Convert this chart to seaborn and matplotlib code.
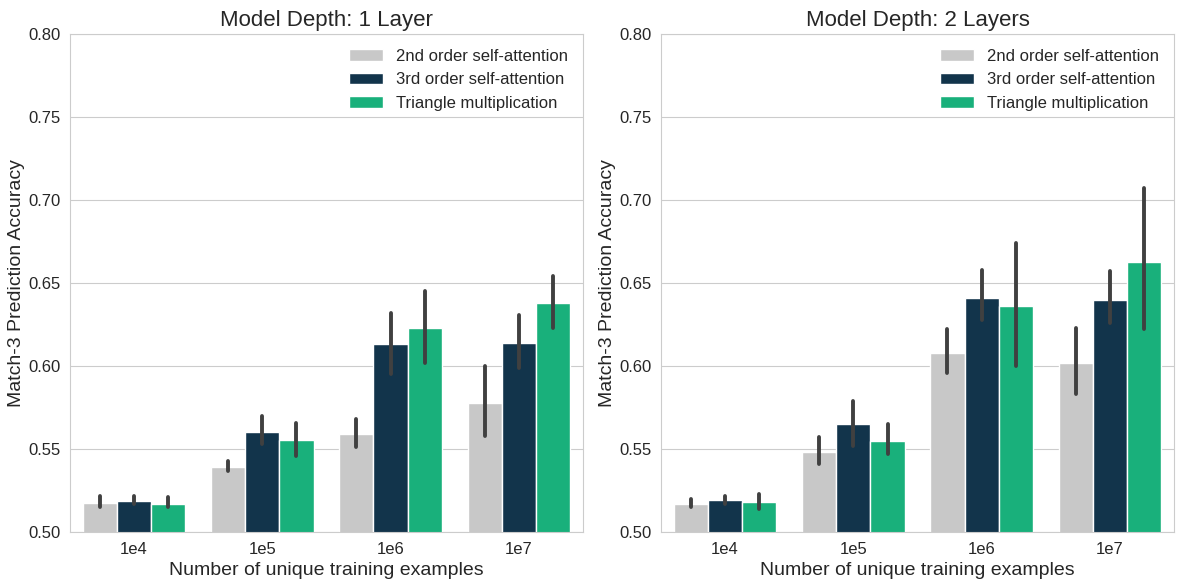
import matplotlib
matplotlib.use('Agg')
import matplotlib.pyplot as plt
import seaborn as sns
import pandas as pd

sizes = ['1e4', '1e5', '1e6', '1e7']
models = ['2nd order self-attention', '3rd order self-attention', 'Triangle multiplication']
colors = ['#c8c8c8', '#12344b', '#19b07b']

# mean accuracy per model (rows) and dataset size (cols)
acc_1layer = [
    [0.5175, 0.539, 0.559, 0.578],
    [0.5187, 0.560, 0.613, 0.614],
    [0.5169, 0.5554, 0.623, 0.638],
]
lo_1layer = [
    [0.515, 0.537, 0.551, 0.558],
    [0.517, 0.553, 0.595, 0.599],
    [0.515, 0.546, 0.602, 0.623],
]
hi_1layer = [
    [0.522, 0.543, 0.568, 0.600],
    [0.522, 0.570, 0.632, 0.631],
    [0.521, 0.5656, 0.645, 0.654],
]

acc_2layer = [
    [0.517, 0.548, 0.608, 0.602],
    [0.519, 0.565, 0.641, 0.640],
    [0.518, 0.555, 0.636, 0.6625],
]
lo_2layer = [
    [0.515, 0.541, 0.596, 0.583],
    [0.517, 0.552, 0.628, 0.626],
    [0.514, 0.547, 0.600, 0.622],
]
hi_2layer = [
    [0.520, 0.557, 0.622, 0.623],
    [0.522, 0.579, 0.658, 0.657],
    [0.523, 0.565, 0.674, 0.707],
]

titles = ['Model Depth: 1 Layer', 'Model Depth: 2 Layers']

sns.set_style('whitegrid')
plt.rcParams['font.family'] = ['Liberation Sans', 'DejaVu Sans']


def make_df(acc):
    rows = []
    for m, model in enumerate(models):
        for s, size in enumerate(sizes):
            rows.append({'size': size, 'model': model, 'acc': acc[m][s]})
    return pd.DataFrame(rows)


fig, axes = plt.subplots(1, 2, figsize=(11.84, 5.84), dpi=100)

panels = [(acc_1layer, lo_1layer, hi_1layer), (acc_2layer, lo_2layer, hi_2layer)]
for ax, (acc, lo, hi), title in zip(axes, panels, titles):
    df = make_df(acc)
    sns.barplot(data=df, x='size', y='acc', hue='model', order=sizes,
                hue_order=models, palette=colors, errorbar=None, saturation=1,
                edgecolor='white', linewidth=1, ax=ax)
    for m, cont in enumerate(ax.containers):
        for s, bar in enumerate(cont):
            xc = bar.get_x() + bar.get_width() / 2
            ax.plot([xc, xc], [lo[m][s], hi[m][s]], color='#404040',
                    lw=2.8, solid_capstyle='round', zorder=5)
    ax.set_xlim(-0.5, 3.5)
    ax.set_ylim(0.5, 0.8)
    ax.set_yticks([0.50, 0.55, 0.60, 0.65, 0.70, 0.75, 0.80])
    ax.set_yticklabels(['0.50', '0.55', '0.60', '0.65', '0.70', '0.75', '0.80'])
    ax.set_title(title, fontsize=16)
    ax.set_xlabel('Number of unique training examples', fontsize=14)
    ax.set_ylabel('Match-3 Prediction Accuracy', fontsize=14)
    ax.yaxis.set_label_coords(-0.088, 0.5)
    ax.tick_params(labelsize=12)
    for sp in ax.spines.values():
        sp.set_color('#cccccc')
    ax.legend(title=None, fontsize=12, loc='upper right', frameon=False)

plt.subplots_adjust(left=0.059, right=0.9916, top=0.9418, bottom=0.089, wspace=0.152)
plt.savefig('out.png', dpi=100)
